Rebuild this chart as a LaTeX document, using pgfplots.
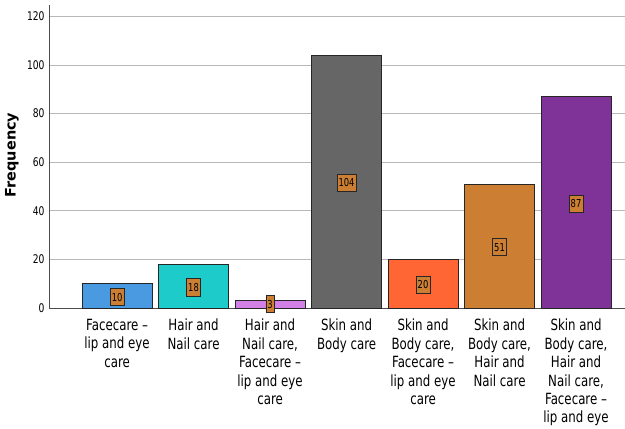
\documentclass[border=0pt]{standalone}
\usepackage{pgfplots}
\pgfplotsset{compat=1.18}
\usepackage{fontspec}
\setmainfont{DejaVu Sans}
\newfontfamily\cond[FakeStretch=0.85]{DejaVu Sans Condensed}
\definecolor{c0}{HTML}{4A9AE1}
\definecolor{c1}{HTML}{1ECBCB}
\definecolor{c2}{HTML}{D27FE6}
\definecolor{c3}{HTML}{666666}
\definecolor{c4}{HTML}{FF6633}
\definecolor{c5}{HTML}{CC7F33}
\definecolor{c6}{HTML}{7F3399}
\begin{document}
\begin{tikzpicture}[x=1bp,y=1bp]
\clip (-49bp,-121bp) rectangle (576bp,308bp);
\begin{axis}[
  at={(0,0)}, anchor=south west,
  scale only axis, width=576bp, height=303bp,
  xmin=-0.89, xmax=6.64, ymin=0, ymax=124.7,
  axis lines=left, axis line style={-, draw=black!70, line width=0.9bp},
  xtick={0,...,6},
  xticklabels={{Facecare –\\lip and eye\\care},{Hair and\\Nail care},{Hair and\\Nail care,\\Facecare –\\lip and eye\\care},{Skin and\\Body care},{Skin and\\Body care,\\Facecare –\\lip and eye\\care},{Skin and\\Body care,\\Hair and\\Nail care},{Skin and\\Body care,\\Hair and\\Nail care,\\Facecare –\\lip and eye\\care}},
  xticklabel style={font=\cond\fontsize{15.5}{18.5}\selectfont, align=center, anchor=north, yshift=-7.5bp},
  ytick={0,20,...,120},
  yticklabel style={font=\cond\fontsize{12}{14}\selectfont, xshift=-1bp},
  /pgf/number format/assume math mode=true,
  major tick length=0pt,
  ymajorgrids, grid style={draw=black!28, line width=0.9bp},
  ylabel={\bfseries Frequency},
  ylabel style={font=\fontsize{14.5}{16}\selectfont, at={(rel axis cs:0,0.505)}, anchor=center, yshift=37bp},
  ybar, bar width=70bp, bar shift=0pt,
  every axis plot/.append style={draw=black!85, line width=0.8bp},
]
\addplot[fill=c0] coordinates {(0,10)};
\addplot[fill=c1] coordinates {(1,18)};
\addplot[fill=c2] coordinates {(2,3)};
\addplot[fill=c3] coordinates {(3,104)};
\addplot[fill=c4] coordinates {(4,20)};
\addplot[fill=c5] coordinates {(5,51)};
\addplot[fill=c6] coordinates {(6,87)};
\addplot[draw=none, fill=none, mark=none, point meta=explicit symbolic,
  nodes near coords,
  nodes near coords style={anchor=center, fill=c5, draw=black!85, line width=0.7bp,
    font=\cond\fontsize{11}{12}\selectfont, inner xsep=1.5bp, inner ysep=4.5bp, text=black}]
  coordinates {(0,4.5)[10] (1,8.5)[18] (2,1.6)[3] (3,51.5)[104] (4,9.5)[20] (5,25)[51] (6,43)[87]};
\end{axis}
\end{tikzpicture}
\end{document}
